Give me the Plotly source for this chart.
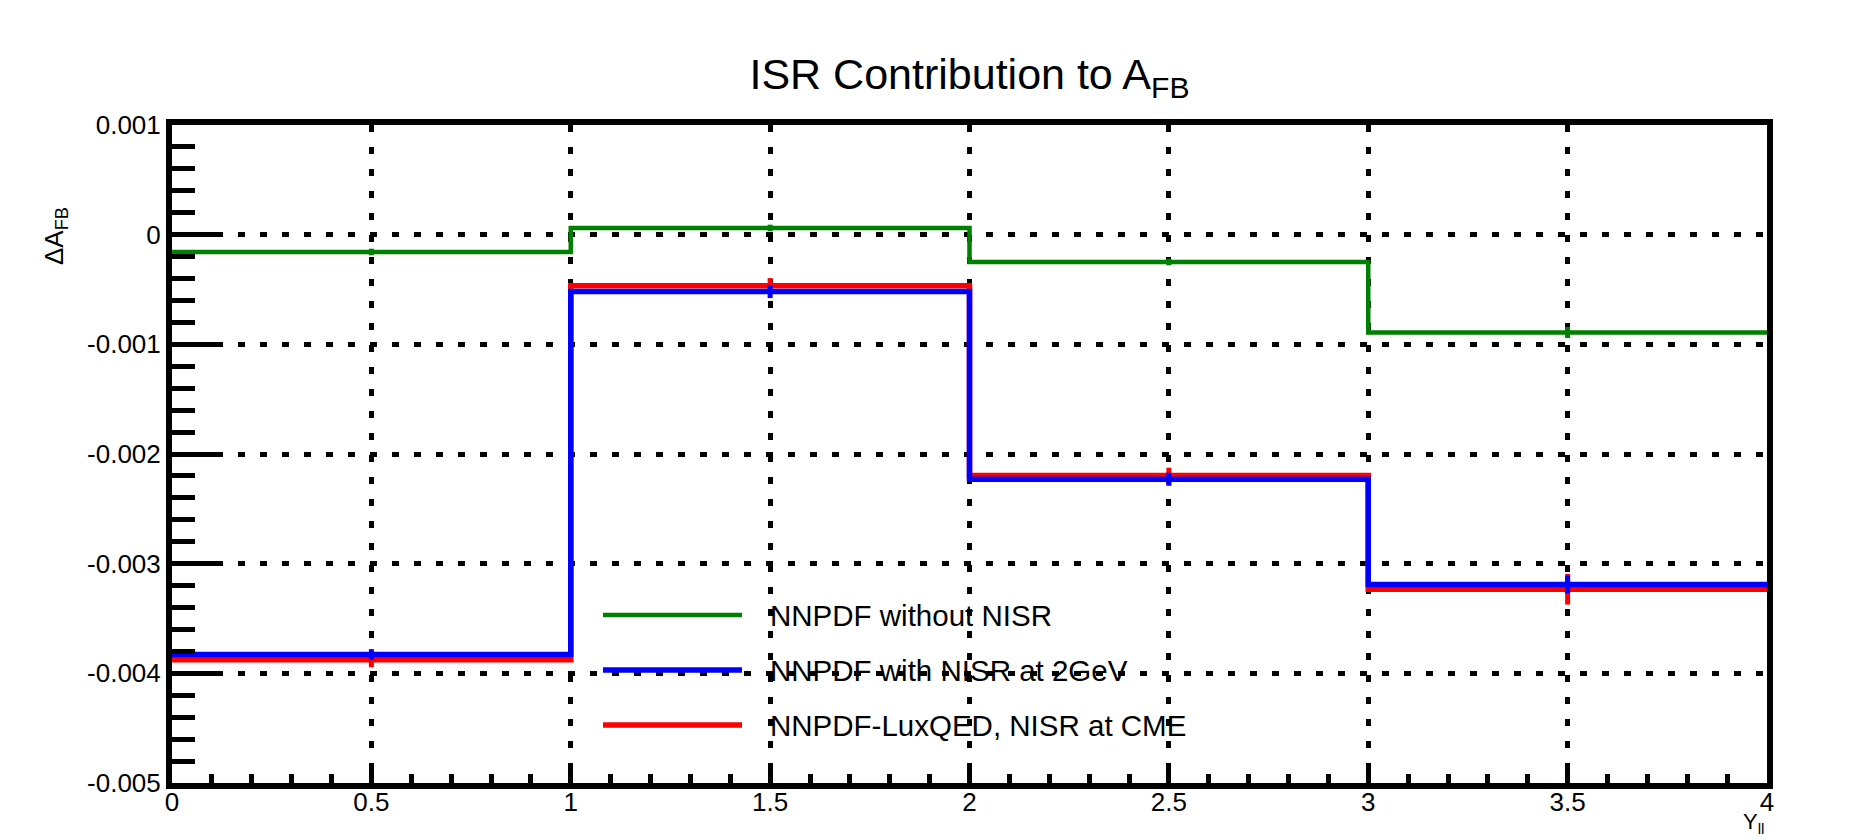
import plotly.graph_objects as go

# ---- data ----
bin_edges = [0, 1, 2, 3, 4]
bin_centers = [0.5, 1.5, 2.5, 3.5]

green_name = "NNPDF without NISR"
green_vals = [-0.000158, 0.000061, -0.000249, -0.000892]
green_errs = [0.00003, 0.00003, 0.00003, 0.00005]

blue_name = "NNPDF with NISR at 2GeV"
blue_vals = [-0.003829, -0.000518, -0.002230, -0.003190]
blue_errs = [0.00005, 0.00006, 0.00006, 0.00008]

red_name = "NNPDF-LuxQED, NISR at CME"
red_vals = [-0.003875, -0.000466, -0.002195, -0.003233]
red_errs = [0.00007, 0.00007, 0.00007, 0.00014]

y_tickvals = [0.001, 0, -0.001, -0.002, -0.003, -0.004, -0.005]
y_ticktext = ["0.001", "0", "-0.001", "-0.002", "-0.003", "-0.004", "-0.005"]
x_tickvals = [0, 0.5, 1, 1.5, 2, 2.5, 3, 3.5, 4]
x_ticktext = ["0", "0.5", "1", "1.5", "2", "2.5", "3", "3.5", "4"]

series = [
    (green_name, green_vals, green_errs, "#008000", 4.5),
    (red_name, red_vals, red_errs, "#ff0000", 5.5),
    (blue_name, blue_vals, blue_errs, "#0000ff", 5.5),
]
legend_order = [
    (green_name, "#008000", 4.5),
    (blue_name, "#0000ff", 5.5),
    (red_name, "#ff0000", 5.5),
]

FONT = "Liberation Sans, Arial, Helvetica, sans-serif"

fig = go.Figure()
for name, vals, errs, col, lw in series:
    fig.add_trace(go.Scatter(
        x=bin_edges, y=vals + [vals[-1]], mode="lines", line_shape="hv",
        line=dict(color=col, width=lw), name=name, showlegend=False,
        hoverinfo="skip"))
    fig.add_trace(go.Scatter(
        x=bin_centers, y=vals, mode="markers",
        marker=dict(size=1, color=col, opacity=0),
        error_y=dict(type="data", array=errs, visible=True, color=col,
                     thickness=5, width=0),
        showlegend=False, hoverinfo="skip"))

# manual legend (long line samples as in the reference)
W, H = 1857, 840
L, R, T, B = 172, 90, 125, 57
pw, ph = W - L - R, H - T - B
def px_x(px):
    return (px - L) / pw
def px_y(py):
    return (H - B - py) / ph

leg_rows = [615, 670, 725]
for (name, col, lw), ry in zip(legend_order, leg_rows):
    fig.add_shape(type="line", xref="paper", yref="paper",
                  x0=px_x(603), x1=px_x(742), y0=px_y(ry), y1=px_y(ry),
                  line=dict(color=col, width=lw))
    fig.add_annotation(xref="paper", yref="paper", x=px_x(768), y=px_y(ry),
                       text=name, showarrow=False, xanchor="left",
                       yanchor="middle", font=dict(size=29.5, color="black",
                                                   family=FONT))

# axis titles
fig.add_annotation(xref="paper", yref="paper", x=px_x(55), y=px_y(236),
                   text="ΔA<sub>FB</sub>", showarrow=False, textangle=-90,
                   xanchor="center", yanchor="middle",
                   font=dict(size=26, color="black", family=FONT))
fig.add_annotation(xref="paper", yref="paper", x=1.0, y=px_y(839),
                   text="Y<sub>ll</sub>", showarrow=False,
                   xanchor="right", yanchor="bottom",
                   font=dict(size=22, color="black", family=FONT))

grid_dash = "7px,15px"
fig.update_layout(
    width=W, height=H,
    margin=dict(l=L, r=R, t=T, b=B),
    paper_bgcolor="white", plot_bgcolor="white",
    font=dict(family=FONT, color="black"),
    title=dict(text="ISR Contribution to A<sub>FB</sub>",
               x=(L + pw / 2) / W, xanchor="center",
               y=1 - 74 / H, yanchor="middle",
               font=dict(size=43, color="black", family=FONT)),
    showlegend=False,
    xaxis=dict(range=[0, 4], tickvals=x_tickvals, ticktext=x_ticktext,
               ticks="inside", ticklen=20, tickwidth=5, tickcolor="black",
               showline=True, linewidth=6, linecolor="black", mirror=True,
               showgrid=True, gridcolor="black", gridwidth=4.5,
               griddash=grid_dash, zeroline=False, ticklabelstandoff=-9,
               tickfont=dict(size=26, color="black"),
               minor=dict(dtick=0.1, ticks="inside", ticklen=9, tickwidth=5,
                          tickcolor="black", showgrid=False)),
    yaxis=dict(range=[-0.005, 0.001], tickvals=y_tickvals, ticktext=y_ticktext,
               ticks="inside", ticklen=46, tickwidth=5, tickcolor="black",
               showline=True, linewidth=6, linecolor="black", mirror=True,
               showgrid=True, gridcolor="black", gridwidth=4.5,
               griddash=grid_dash, zeroline=False, ticklabelstandoff=0,
               tickfont=dict(size=26, color="black"),
               minor=dict(dtick=0.0002, ticks="inside", ticklen=23,
                          tickwidth=5, tickcolor="black", showgrid=False)),
)

fig.write_html("out.html")
